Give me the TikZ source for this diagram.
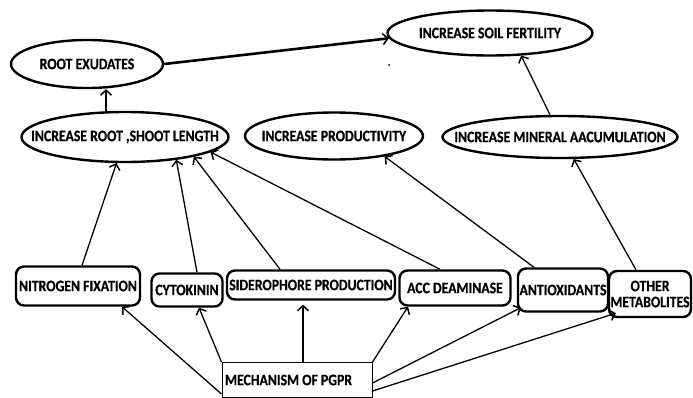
\documentclass[tikz,border=0pt]{standalone}
\usepackage{fontspec}
\setmainfont{Carlito}[FakeStretch=0.86,BoldFeatures={FakeBold=0.6}]
\usetikzlibrary{shapes.geometric,arrows.meta}
\tikzset{
  lbl/.style={font=\fontsize{16}{16}\selectfont\bfseries},
  oval/.style={ellipse,draw,line width=2.4pt,inner xsep=-60pt,inner ysep=-15pt,lbl},
  rbox/.style={rectangle,rounded corners=8pt,draw,line width=2.4pt,inner sep=1pt,lbl,align=center},
  mbox/.style={rectangle,draw,line width=1pt,inner xsep=3pt,minimum height=35pt,lbl},
  arr/.style={line width=1.3pt,-{Straight Barb[length=5pt,width=11pt,line width=1.5pt]}},
  thickarr/.style={line width=2.6pt,-{Straight Barb[length=5pt,width=11pt,line width=1.6pt]}}
}
\begin{document}
\begin{tikzpicture}[x=1pt,y=-1pt]
\useasboundingbox (0,0) rectangle (693,397);
% ovals
\node[oval,minimum width=152pt,minimum height=48pt] (rex) at (87,64) {ROOT EXUDATES};
\node[oval,minimum width=205pt,minimum height=45pt] (fert) at (490,33) {INCREASE SOIL FERTILITY};
\node[oval,minimum width=207pt,minimum height=50pt] (ros) at (125,137) {INCREASE ROOT ,SHOOT LENGTH};
\node[oval,minimum width=178pt,minimum height=47pt] (prod) at (334,136) {INCREASE PRODUCTIVITY};
\node[oval,minimum width=235pt,minimum height=42pt] (mine) at (560,137) {INCREASE MINERAL AACUMULATION};
% boxes
\node[rbox,minimum width=124pt,minimum height=39pt] (nit) at (78,286) {NITROGEN FIXATION};
\node[rbox,minimum width=71pt,minimum height=33pt] (cyt) at (187,290) {CYTOKININ};
\node[rbox,minimum width=168pt,minimum height=29pt] (sid) at (311,285) {SIDEROPHORE PRODUCTION};
\node[rbox,minimum width=111pt,minimum height=35pt] (acc) at (455,288) {ACC DEAMINASE};
\node[rbox,minimum width=90pt,minimum height=43pt] (anti) at (563,290) {ANTIOXIDANTS};
\node[rbox,minimum width=82pt,minimum height=46pt] (oth) at (650,294) {OTHER\\METABOLITES};
\node[mbox] (mech) at (297,380) {\makebox[144pt][l]{MECHANISM OF PGPR}};
% stray dot
\fill (389,65) circle (1pt);
% connectors upper
\draw[thickarr] (rex.east) -- (fert.183);
\draw[arr] ([xshift=-19pt]ros.north) -- ([xshift=19pt]rex.south);
\draw[arr] ([xshift=-10pt]mine.north) -- (fert.-36);
\draw[arr] ([xshift=4pt]nit.north) -- (ros.-108);
\draw[arr] ([xshift=10pt]cyt.north) -- (ros.-24);
\draw[arr] ([xshift=-31pt]sid.north) -- (ros.-16);
\draw[arr] ([xshift=-15pt]acc.north) -- (ros.-10);
\draw[arr] ([xshift=-29pt]anti.north) -- (prod.-22);
\draw[arr] ([xshift=-14pt]oth.north) -- (mine.-58);
% connectors from mechanism
\draw[arr] ([yshift=4pt]mech.south west) -- ([xshift=44pt]nit.south);
\draw[arr] (mech.north west) -- ([xshift=12pt]cyt.south);
\draw[arr] ([xshift=6pt]mech.north) -- ([xshift=-8pt,yshift=-4pt]sid.south);
\draw[arr] (mech.north east) -- ([xshift=-47pt]acc.south);
\draw[arr] ([yshift=-3pt]mech.east) -- ([shift={(4pt,5pt)}]anti.south west);
\draw[arr] ([yshift=-11pt]mech.east) -- ([shift={(8pt,5pt)}]oth.south west);
\end{tikzpicture}
\end{document}
